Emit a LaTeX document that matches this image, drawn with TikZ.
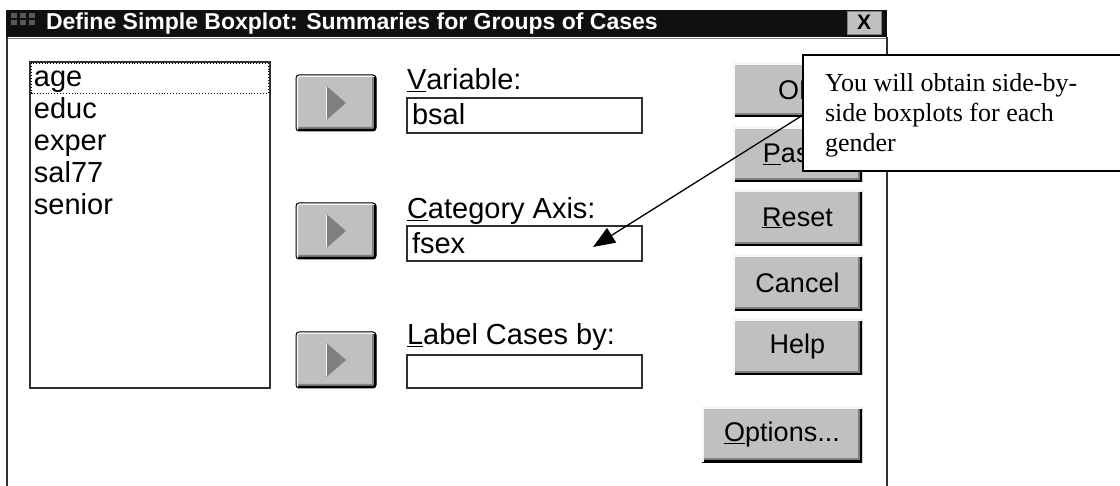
\documentclass[tikz,border=0pt]{standalone}
\usepackage{fontspec}
\setmainfont{Liberation Sans}
\newfontfamily\calloutfont{Liberation Serif}
\usetikzlibrary{arrows.meta}
\definecolor{btngray}{HTML}{C0C0C0}
\definecolor{arrowgray}{HTML}{808080}
\definecolor{titleblack}{HTML}{101010}
\definecolor{shadowgray}{HTML}{808080}
\definecolor{lightedge}{HTML}{F6F6F6}
\definecolor{framegray}{HTML}{303030}
\begin{document}
\begin{tikzpicture}[x=1pt,y=-1pt,
  every node/.style={inner sep=0pt, outer sep=0pt},
  dlgtext/.style={font=\fontsize{29}{34}\selectfont, anchor=base west},
  winbtn/.style={font=\fontsize{27}{32}\selectfont, fill=btngray, anchor=north west,
    path picture={
      \draw[shadowgray, line width=8pt] (path picture bounding box.south west) -- (path picture bounding box.south east) -- (path picture bounding box.north east);
      \draw[black, line width=4pt] (path picture bounding box.south west) -- (path picture bounding box.south east) -- (path picture bounding box.north east);
      \draw[lightedge, line width=4pt] (path picture bounding box.south west) -- (path picture bounding box.north west) -- (path picture bounding box.north east);
    }},
  arrowbtn/.style={winbtn, draw=black, line width=1pt, rounded corners=3pt,
    minimum width=80pt, minimum height=56pt},
  rightbtn/.style={winbtn, minimum width=129pt, minimum height=55pt},
  fieldbox/.style={draw=framegray, line width=1.5pt, fill=white, anchor=north west,
    minimum width=235pt, minimum height=35pt},
  triarrow/.style={fill=arrowgray},
  noteline/.style={font=\calloutfont\fontsize{26}{30}\selectfont, anchor=base west}
]
\useasboundingbox (0,0) rectangle (1120,486);
\fill[white] (0,0) rectangle (1120,486);

% dialog frame
\node[fill=titleblack, anchor=north west, minimum width=881pt, minimum height=27pt] (titlebar) at (6,10) {};
\draw[gray, line width=1pt] (7,39) -- (887,39);
\draw[framegray, line width=1.8pt] (7,37) -- (7,486);
\draw[framegray, line width=1.8pt] (887,37) -- (887,486);

% title icon
\foreach \i in {0,1,2} \foreach \j in {0,1} {
  \fill[gray!70!black] (11+\i*9,13+\j*7) rectangle (17+\i*9,18+\j*7);
}
\node[font=\bfseries\fontsize{23}{27}\selectfont, text=white, anchor=base west] (title) at (46,30) {Define Simple Boxplot: Summaries for Groups of Cases};

% close button
\node[fill=btngray, draw=gray, line width=0.6pt, anchor=north west, minimum width=34pt, minimum height=23pt,
  font=\bfseries\fontsize{21}{23}\selectfont] (close) at (847,11) {X};

% variable list
\node[draw=framegray, line width=1.5pt, fill=white, anchor=north west, minimum width=240pt, minimum height=326pt] (list) at (30,62) {};
\draw[black, dotted, line width=0.9pt] (31.5,63.5) rectangle (268.5,93);
\node[dlgtext] (age) at (34,87) {age};
\node[dlgtext] (educ) at (34,119) {educ};
\node[dlgtext] (exper) at (34,151) {exper};
\node[dlgtext] (sal) at (34,183) {sal77};
\node[dlgtext] (senior) at (34,215) {senior};

% arrow buttons
\node[arrowbtn] (move1) at (296,75) {};
\node[arrowbtn] (move2) at (296,203) {};
\node[arrowbtn] (move3) at (296,332) {};
\foreach \b in {move1,move2,move3} {
  \fill[triarrow] ([xshift=-9.5pt,yshift=17pt]\b.center) -- ([xshift=10pt]\b.center) -- ([xshift=-9.5pt,yshift=-17pt]\b.center) -- cycle;
  \draw[lightedge, line width=1pt] ([xshift=-9.5pt,yshift=16pt]\b.center) -- ([xshift=-9.5pt,yshift=-16pt]\b.center);
}

% fields
\node[dlgtext] (varlabel) at (407,90) {\underline{V}ariable:};
\node[fieldbox] (varbox) at (407,98) {};
\node[dlgtext] (bsal) at (412,125) {bsal};

\node[dlgtext] (catlabel) at (407,219) {\underline{C}ategory Axis:};
\node[fieldbox] (catbox) at (407,226) {};
\node[dlgtext] (fsex) at (412,254) {fsex};

\node[dlgtext] (lablabel) at (407,345) {\underline{L}abel Cases by:};
\node[fieldbox, minimum height=33pt] (labbox) at (407,355) {};

% right buttons
\node[rightbtn, minimum height=54pt] (ok) at (733,63) {OK};
\node[rightbtn] (paste) at (733,127) {\underline{P}aste};
\node[rightbtn, minimum height=56pt] (reset) at (733,190) {\underline{R}eset};
\node[rightbtn, minimum height=56pt] (cancel) at (733,255) {Cancel};
\node[rightbtn, minimum height=56pt] (help) at (733,319) {Help};
\node[rightbtn, minimum width=160pt] (options) at (702,407) {\underline{O}ptions...};

% callout (runs past the right edge of the picture)
\node[draw=black, line width=1.5pt, fill=white, anchor=north west, minimum width=330pt, minimum height=116pt] (note) at (803,55) {};
\node[noteline] (l1) at (825,92) {You will obtain side-by-};
\node[noteline] (l2) at (825,122) {side boxplots for each};
\node[noteline] (l3) at (825,152) {gender};

\coordinate (tip) at (593,247);
\draw[line width=1.3pt, -{Triangle[length=22pt,width=17pt]}] ([yshift=-2pt]note.west) -- (tip);
\end{tikzpicture}
\end{document}
